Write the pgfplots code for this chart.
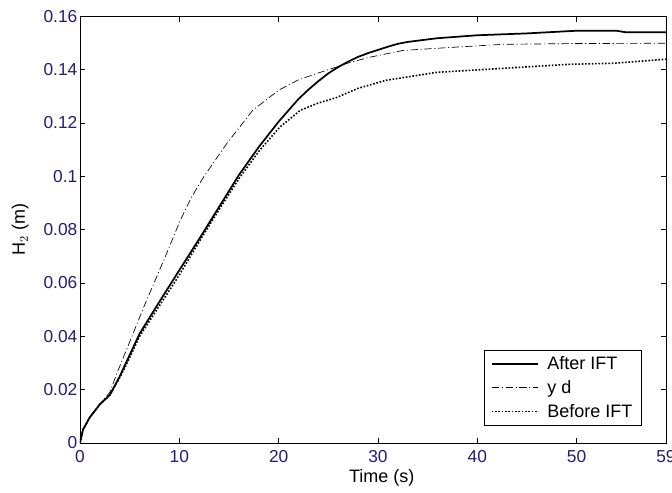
\documentclass[border=0pt]{standalone}
\usepackage{fontspec}
\setmainfont{Liberation Sans}
\usepackage{pgfplots}
\pgfplotsset{compat=1.18}
\definecolor{ticknavy}{RGB}{35,30,115}

\begin{document}
\begin{tikzpicture}
\begin{axis}[
  name=ax, at={(0,0)}, anchor=south west,
  scale only axis, width=439.5pt, height=320pt,
  xmin=0, xmax=59, ymin=0, ymax=0.16,
  xtick={0,10,20,30,40,50,59},
  ytick={0,0.02,0.04,0.06,0.08,0.1,0.12,0.14,0.16},
  scaled y ticks=false,
  yticklabel style={/pgf/number format/fixed, /pgf/number format/precision=2},
  /pgf/number format/assume math mode=true,
  tick label style={font=\fontsize{13}{15}\selectfont, text=ticknavy},
  tick align=inside, major tick length=4pt,
  tick style={black, line width=0.5pt},
  axis line style={line width=0.6pt},
  xticklabel style={yshift=-2pt},
  yticklabel style={xshift=1.5pt},
  xlabel={Time (s)}, ylabel={H$_2$ (m)},
  xlabel style={at={(axis description cs:0.515,-0.082)}, anchor=center,
    font=\fontsize{13.5}{15}\selectfont},
  ylabel style={at={(axis description cs:-0.102,0.5)}, anchor=center,
    font=\fontsize{13.5}{15}\selectfont},
  legend style={at={(rel axis cs:0.959,0.04)}, anchor=south east,
    draw=black, font=\fontsize{13.5}{15}\selectfont,
    row sep=2.5pt, inner xsep=5pt, inner ysep=3pt},
  legend cell align=left,
  legend image code/.code={\draw[#1] (0pt,0pt) -- (35pt,0pt);
    \path (39pt,0pt);},
]
\addplot[black, line width=1.3pt] coordinates {
(0,0) (0.3,0.005) (1,0.0097) (2,0.0145) (3,0.018) (4,0.025) (5,0.033)
(6,0.041) (8,0.053) (10,0.0648) (12,0.0765) (14,0.0885) (16,0.1005)
(18,0.111) (20,0.1205) (22,0.129) (23,0.1325) (24,0.1357) (25,0.1386)
(26,0.141) (27,0.143) (28,0.1448) (29,0.1462) (30,0.1474) (31,0.1486)
(32,0.1497) (33,0.1504) (36,0.1518) (40,0.1529) (45,0.1536)
(50,0.1546) (54,0.1546) (55,0.154) (59,0.154)};
\addlegendentry{After IFT}
\addplot[black, line width=0.5pt, dash pattern=on 5.5pt off 2pt on 0.8pt off 2pt] coordinates {
(0,0) (0.3,0.005) (1,0.0097) (2,0.0145) (3,0.019) (3.7,0.026) (5.36,0.0412)
(6.5,0.0517) (8.6,0.070) (10.1,0.0835) (11.2,0.092) (12.4,0.0995) (14.8,0.1124)
(17.4,0.1248) (20,0.1323) (22,0.1362) (24.2,0.139) (26,0.1412) (27,0.1425)
(29.1,0.1446) (32.5,0.1472) (37.6,0.1484) (42.6,0.1495) (50,0.1498) (59,0.1499)};
\addlegendentry{y d}
\addplot[black, line width=1.2pt, dash pattern=on 1.2pt off 1.3pt] coordinates {
(0,0) (0.3,0.005) (1,0.0097) (2,0.0145) (3,0.018) (4,0.0245) (5,0.032)
(6,0.040) (8,0.0515) (10,0.063) (12,0.0755) (14,0.0875) (16.1,0.0997)
(18.1,0.1098) (20.1,0.1184) (22.2,0.1248) (24,0.1275) (25.8,0.1295)
(28,0.133) (30.8,0.136) (35.9,0.139) (42.6,0.1405) (49.2,0.142)
(53.7,0.1424) (59,0.1439)};
\addlegendentry{Before IFT}
\end{axis}
\pgfresetboundingbox
\path (-60pt,-37.5pt) rectangle (444pt,332.25pt);
\end{tikzpicture}
\end{document}
